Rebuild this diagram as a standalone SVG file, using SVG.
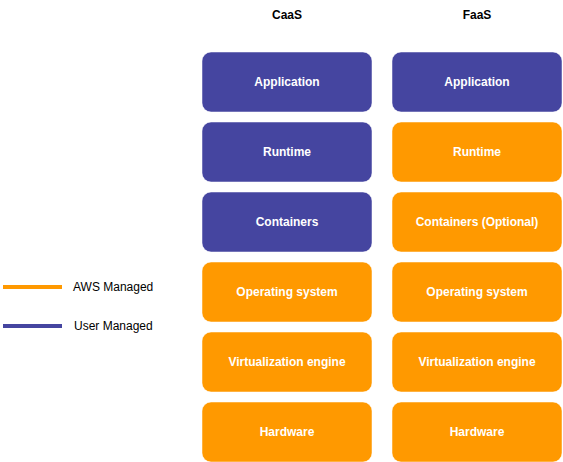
<svg xmlns="http://www.w3.org/2000/svg" width="563" height="462" viewBox="0 0 563 462">
<style>
.b{stroke:#ffffff;stroke-opacity:0.5;stroke-width:1}
.u{fill:#4545A0}
.a{fill:#FF9900}
.t{font-family:"Liberation Sans",Arial,sans-serif;font-size:12px;font-weight:bold;fill:#ffffff;text-anchor:middle;dominant-baseline:central}
.h{font-family:"Liberation Sans",Arial,sans-serif;font-size:12px;font-weight:bold;fill:#000000;text-anchor:middle;dominant-baseline:central}
.l{font-family:"Liberation Sans",Arial,sans-serif;font-size:12px;fill:#000000;dominant-baseline:central}
</style>
<rect width="563" height="462" fill="#ffffff"/>
<text class="h" x="287" y="15">CaaS</text>
<text class="h" x="477" y="15">FaaS</text>
<g id="caas-app"><rect class="b u" x="202" y="52" width="170" height="60" rx="9"/><text class="t" x="287" y="82">Application</text></g>
<g id="caas-runtime"><rect class="b u" x="202" y="122" width="170" height="60" rx="9"/><text class="t" x="287" y="152">Runtime</text></g>
<g id="caas-containers"><rect class="b u" x="202" y="192" width="170" height="60" rx="9"/><text class="t" x="287" y="222">Containers</text></g>
<g id="caas-os"><rect class="b a" x="202" y="262" width="170" height="60" rx="9"/><text class="t" x="287" y="292">Operating system</text></g>
<g id="caas-virt"><rect class="b a" x="202" y="332" width="170" height="60" rx="9"/><text class="t" x="287" y="362">Virtualization engine</text></g>
<g id="caas-hw"><rect class="b a" x="202" y="402" width="170" height="60" rx="9"/><text class="t" x="287" y="432">Hardware</text></g>
<g id="faas-app"><rect class="b u" x="392" y="52" width="170" height="60" rx="9"/><text class="t" x="477" y="82">Application</text></g>
<g id="faas-runtime"><rect class="b a" x="392" y="122" width="170" height="60" rx="9"/><text class="t" x="477" y="152">Runtime</text></g>
<g id="faas-containers"><rect class="b a" x="392" y="192" width="170" height="60" rx="9"/><text class="t" x="477" y="222">Containers (Optional)</text></g>
<g id="faas-os"><rect class="b a" x="392" y="262" width="170" height="60" rx="9"/><text class="t" x="477" y="292">Operating system</text></g>
<g id="faas-virt"><rect class="b a" x="392" y="332" width="170" height="60" rx="9"/><text class="t" x="477" y="362">Virtualization engine</text></g>
<g id="faas-hw"><rect class="b a" x="392" y="402" width="170" height="60" rx="9"/><text class="t" x="477" y="432">Hardware</text></g>
<g id="legend">
<line x1="3" y1="287" x2="62" y2="287" stroke="#FF9900" stroke-width="4"/>
<text class="l" x="73" y="287">AWS Managed</text>
<line x1="3" y1="326" x2="62" y2="326" stroke="#4545A0" stroke-width="4"/>
<text class="l" x="74" y="326">User Managed</text>
</g>
</svg>
